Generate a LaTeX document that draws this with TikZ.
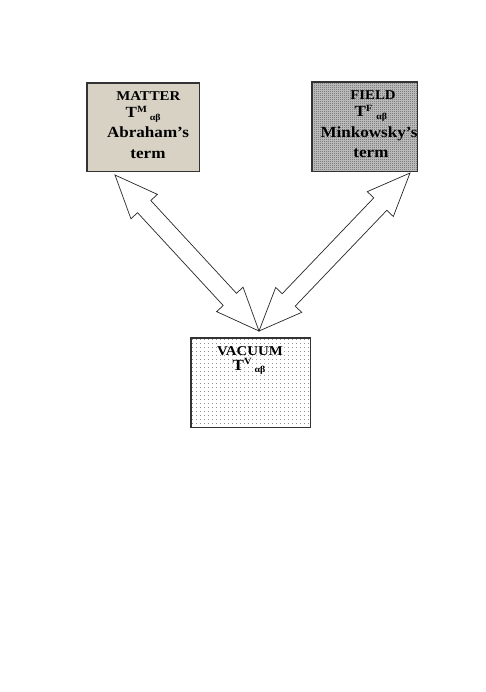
\documentclass[tikz,border=0pt]{standalone}
\usepackage{fontspec}
\setmainfont[FakeStretch=1.1]{Liberation Serif}
\usetikzlibrary{calc,patterns}
\pgfdeclarepatternformonly{checker}{\pgfpointorigin}{\pgfqpoint{2pt}{2pt}}{\pgfqpoint{2pt}{2pt}}{%
 \pgfpathrectangle{\pgfpointorigin}{\pgfqpoint{1pt}{1pt}}%
 \pgfpathrectangle{\pgfqpoint{1pt}{1pt}}{\pgfqpoint{1pt}{1pt}}%
 \pgfusepath{fill}}
\pgfdeclarepatternformonly{sparsedots}{\pgfpointorigin}{\pgfqpoint{4pt}{4pt}}{\pgfqpoint{4pt}{4pt}}{%
 \pgfpathrectangle{\pgfpointorigin}{\pgfqpoint{1pt}{1pt}}\pgfusepath{fill}}
\definecolor{beige}{RGB}{216,210,197}
\newcommand\Tsym[2]{{\fontsize{15.5}{15.5}\selectfont T}\raisebox{5.7pt}{\fontsize{9.5}{9.5}\selectfont #1}\hspace{#2}\raisebox{-2.5pt}{\fontsize{9}{9}\selectfont αβ}}
\newcommand\dblarrow[2]{%
 \coordinate (p1) at ($(#1)!43pt!(#2)$);
 \coordinate (p2) at ($(#2)!43pt!(#1)$);
 \draw[blockarrow] (#1) -- ($(p1)!18pt!90:(#2)$) -- ($(p1)!9pt!90:(#2)$)
   -- ($(p2)!9pt!-90:(#1)$) -- ($(p2)!18pt!-90:(#1)$) -- (#2)
   -- ($(p2)!18pt!90:(#1)$) -- ($(p2)!9pt!90:(#1)$)
   -- ($(p1)!9pt!-90:(#2)$) -- ($(p1)!18pt!-90:(#2)$) -- cycle;}
\tikzset{
 box/.style={draw=black!80, line width=0.8pt, rectangle, inner sep=0pt},
 blockarrow/.style={draw=black!85, fill=white, line width=0.7pt, line join=miter},
 big/.style={anchor=base, inner sep=0pt, font=\fontsize{13.5}{13.5}\selectfont\bfseries},
 large/.style={anchor=base, inner sep=0pt, font=\fontsize{15.5}{15.5}\selectfont\bfseries},
 tline/.style={anchor=base west, inner sep=0pt, font=\bfseries},
}
\begin{document}
\begin{tikzpicture}[x=1pt,y=-1pt]
\useasboundingbox[fill=white] (0,0) rectangle (485,692);
% boxes
\node[box, fill=beige, minimum width=112pt, minimum height=88pt] (matter) at (143,127) {};
\node[box, preaction={fill=black!22}, pattern=checker, pattern color=black!65,
      minimum width=105pt, minimum height=89pt] (field) at (364.5,126.5) {};
\node[box, preaction={fill=white}, pattern=sparsedots, pattern color=black!42,
      minimum width=119pt, minimum height=89pt] (vacuum) at (250.5,382.5) {};
\draw[draw=black!80, line width=0.8pt] (matter.south west) rectangle (matter.north east);
\draw[draw=black!80, line width=0.8pt] (field.south west) rectangle (field.north east);
\draw[draw=black!80, line width=0.8pt] (vacuum.south west) rectangle (vacuum.north east);
% arrow tips
\coordinate (mtip) at (115,175);
\coordinate (ftip) at (410,173);
\coordinate (vtip) at (259,331);
\dblarrow{mtip}{vtip}
\dblarrow{ftip}{vtip}
% matter text
\node[big] (m1) at (148.3,101) {MATTER};
\node[tline] (m2) at (125.5,118) {\Tsym{M}{3pt}};
\node[large] (m3) at (148,138) {Abraham’s};
\node[large] (m4) at (148,159) {term};
% field text
\node[big] (f1) at (373,100) {FIELD};
\node[tline] (f2) at (354.5,117) {\Tsym{F}{4pt}};
\node[large] (f3) at (369,138) {Minkowsky’s};
\node[large] (f4) at (371,158) {term};
% vacuum text
\node[big] (v1) at (250,355) {VACUUM};
\node[tline] (v2) at (232.5,370) {\Tsym{V}{3pt}};
\end{tikzpicture}
\end{document}
